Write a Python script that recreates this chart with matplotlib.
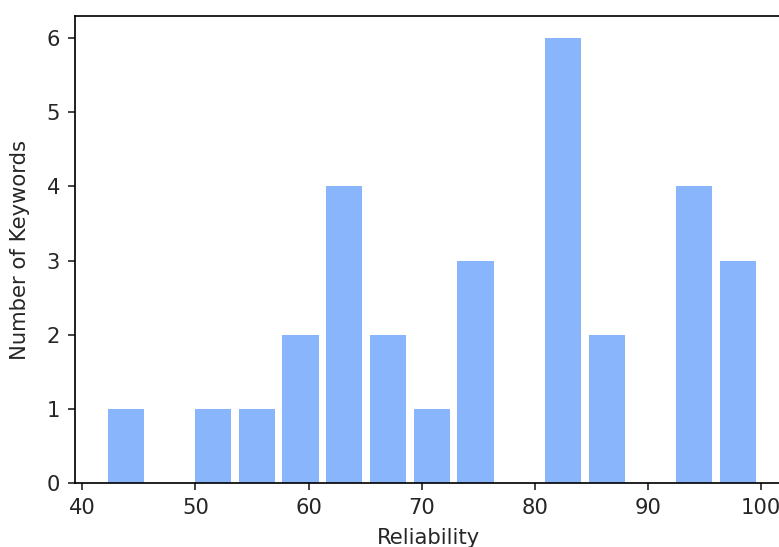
import numpy as np
import matplotlib
matplotlib.use("Agg")
import matplotlib.pyplot as plt

# Data
bin_edges = np.linspace(41.9, 99.9, 16)
counts = [1, 0, 1, 1, 2, 4, 2, 1, 3, 0, 6, 2, 0, 4, 3]
xticks = [40, 50, 60, 70, 80, 90, 100]
yticks = [0, 1, 2, 3, 4, 5, 6]

DPI = 152
W, H = 779, 547
fig = plt.figure(figsize=(W / DPI, H / DPI), dpi=DPI)

left_px, top_px, bottom_px = 75, 16, 483
xmin, xmax = 39.35, 101.8
px_per_unit = (760 - 81.5) / 60.0
width_px = (xmax - xmin) * px_per_unit
ax = fig.add_axes([left_px / W, 1 - bottom_px / H, width_px / W, (bottom_px - top_px) / H])

centers = (bin_edges[:-1] + bin_edges[1:]) / 2
ax.hist(centers, bins=bin_edges, weights=counts, rwidth=0.83, color="#88b5fc")

ax.set_xlim(xmin, xmax)
ax.set_ylim(0, 6.3)
ax.set_xticks(xticks)
ax.set_yticks(yticks)
ax.tick_params(colors="#262626", labelcolor="#262626")
ax.set_xlabel("Reliability", labelpad=5, color="#262626")
ax.set_ylabel("Number of Keywords", labelpad=8, color="#262626")

fig.savefig("out.png", dpi=DPI)
